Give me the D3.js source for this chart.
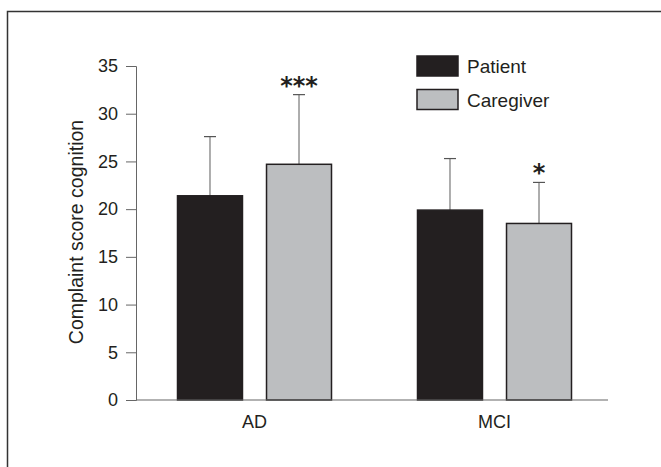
<!DOCTYPE html>
<html>
<head>
<meta charset="utf-8">
<script src="https://cdn.jsdelivr.net/npm/d3@7"></script>
<style>
  body { margin: 0; background: #fff; }
  svg { display: block; font-family: "Liberation Sans", Arial, sans-serif; }
</style>
</head>
<body>
<svg id="chart" width="661" height="467"></svg>
<script>
const groups = ["AD", "MCI"];
const series = ["Patient", "Caregiver"];
const means = [[21.4, 24.7], [19.9, 18.5]];
const errTop = [[27.6, 32.0], [25.3, 22.8]];
const stars = [["", "***"], ["", "*"]];
const yTicks = [0, 5, 10, 15, 20, 25, 30, 35];

const colors = { Patient: "#231f20", Caregiver: "#bcbec0" };

const svg = d3.select("#chart");

// frame
svg.append("path").attr("d", "M7.5,467 V11.5 H661").attr("fill", "none").attr("stroke", "#333").attr("stroke-width", 1.5);

const y = d3.scaleLinear().domain([0, 35]).range([400, 66]);
const x0 = d3.scaleBand().domain(groups).range([134.5, 614.5]);
const x1 = d3.scaleBand().domain(series)
    .range([x0.bandwidth() / 2 - 77, x0.bandwidth() / 2 + 77]).paddingInner(0.27);

// y axis
const yAxis = svg.append("g").attr("transform", "translate(136,0)")
    .call(d3.axisLeft(y).tickValues(yTicks).tickSize(10).tickPadding(8));
yAxis.select(".domain").attr("stroke", "#666");
yAxis.selectAll(".tick line").attr("stroke", "#666");
yAxis.selectAll("text").attr("font-size", 18).attr("fill", "#231f20").attr("font-family", "Liberation Sans, Arial, sans-serif");

svg.append("text")
    .attr("transform", "translate(83,232) rotate(-90)")
    .attr("text-anchor", "middle")
    .attr("font-size", 19.5).attr("fill", "#231f20")
    .text("Complaint score cognition");

// bars
const gG = svg.selectAll("g.grp").data(groups).enter().append("g")
    .attr("class", "grp").attr("transform", d => `translate(${x0(d)},0)`);

groups.forEach((gname, gi) => {
    const grp = gG.filter(d => d === gname);
    series.forEach((s, si) => {
        const bx = x1(s), bw = x1.bandwidth(), cx = bx + bw / 2;
        grp.append("line").attr("x1", cx).attr("x2", cx)
            .attr("y1", y(means[gi][si])).attr("y2", y(errTop[gi][si]))
            .attr("stroke", "#777").attr("stroke-width", 1.2);
        grp.append("line").attr("x1", cx - 6).attr("x2", cx + 6)
            .attr("y1", y(errTop[gi][si])).attr("y2", y(errTop[gi][si]))
            .attr("stroke", "#555").attr("stroke-width", 1.2);
        grp.append("rect").attr("x", bx).attr("width", bw)
            .attr("y", y(means[gi][si])).attr("height", y(0) - y(means[gi][si]))
            .attr("fill", colors[s]).attr("stroke", "#231f20").attr("stroke-width", 1.5);
        if (stars[gi][si]) {
            grp.append("text").attr("x", cx).attr("y", y(errTop[gi][si]) - 1)
                .attr("text-anchor", "middle").attr("font-size", 24).attr("font-weight", "bold")
                .attr("fill", "#231f20").attr("font-family", "DejaVu Sans, sans-serif")
                .text(stars[gi][si]);
        }
    });
});

// x axis baseline
svg.append("line").attr("x1", 136).attr("x2", 608).attr("y1", y(0)).attr("y2", y(0))
    .attr("stroke", "#666").attr("stroke-width", 1.2);

svg.selectAll("text.cat").data(groups).enter().append("text")
    .attr("class", "cat")
    .attr("x", d => x0(d) + x0.bandwidth() / 2).attr("y", 428)
    .attr("text-anchor", "middle").attr("font-size", 18).attr("fill", "#231f20")
    .text(d => d);

// legend
const leg = svg.append("g").attr("transform", "translate(417,56)");
series.forEach((s, i) => {
    leg.append("rect").attr("x", 0).attr("y", i * 33.5).attr("width", 41).attr("height", 20)
        .attr("fill", colors[s]).attr("stroke", "#231f20").attr("stroke-width", 1.5);
    leg.append("text").attr("x", 50).attr("y", i * 33.5 + 17)
        .attr("font-size", 19).attr("fill", "#231f20").text(s);
});
</script>
</body>
</html>
